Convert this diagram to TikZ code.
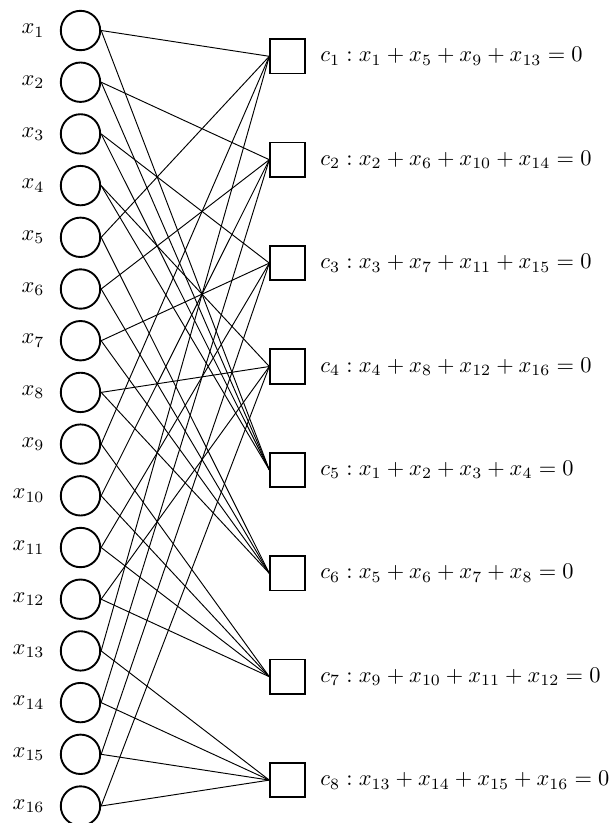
\documentclass[tikz,border=0pt]{standalone}
\begin{document}
\begin{tikzpicture}[x=0.4237pt,y=-0.4237pt,
  varnode/.style={circle,draw,line width=0.8pt,minimum size=16.7pt,inner sep=0pt},
  chknode/.style={rectangle,draw,line width=0.8pt,minimum size=14.6pt,inner sep=0pt},
  edge/.style={line width=0.4pt},
  vlabel/.style={anchor=east,inner sep=0pt},
  clabel/.style={anchor=west,inner sep=0pt}]
\path[use as bounding box] (0,0) rectangle (613,823);
\foreach \i in {1,...,16}{
  \node[varnode] (x\i) at (80.5,{30.5+(\i-1)*51.7}) {};
  \node[vlabel] (lx\i) at (45,{30.5+(\i-1)*51.7}) {\scalebox{0.95}{$x_{\i}$}};
}
\foreach \j in {1,...,8}{
  \node[chknode] (c\j) at (287.5,{56.3+(\j-1)*103.4}) {};
}
\node[clabel] (e1) at (320,56.3) {\scalebox{0.95}{$c_1: x_1+x_5+x_9+x_{13}=0$}};
\node[clabel] (e2) at (320,159.7) {\scalebox{0.95}{$c_2: x_2+x_6+x_{10}+x_{14}=0$}};
\node[clabel] (e3) at (320,263.1) {\scalebox{0.95}{$c_3: x_3+x_7+x_{11}+x_{15}=0$}};
\node[clabel] (e4) at (320,366.5) {\scalebox{0.95}{$c_4: x_4+x_8+x_{12}+x_{16}=0$}};
\node[clabel] (e5) at (320,469.9) {\scalebox{0.95}{$c_5: x_1+x_2+x_3+x_4=0$}};
\node[clabel] (e6) at (320,573.3) {\scalebox{0.95}{$c_6: x_5+x_6+x_7+x_8=0$}};
\node[clabel] (e7) at (320,676.7) {\scalebox{0.95}{$c_7: x_9+x_{10}+x_{11}+x_{12}=0$}};
\node[clabel] (e8) at (320,780.1) {\scalebox{0.95}{$c_8: x_{13}+x_{14}+x_{15}+x_{16}=0$}};
\foreach \a/\b in {1/1,5/1,9/1,13/1,2/2,6/2,10/2,14/2,3/3,7/3,11/3,15/3,4/4,8/4,12/4,16/4,
  1/5,2/5,3/5,4/5,5/6,6/6,7/6,8/6,9/7,10/7,11/7,12/7,13/8,14/8,15/8,16/8}{
  \draw[edge] (x\a.east) -- (c\b.west);
}
\end{tikzpicture}
\end{document}
